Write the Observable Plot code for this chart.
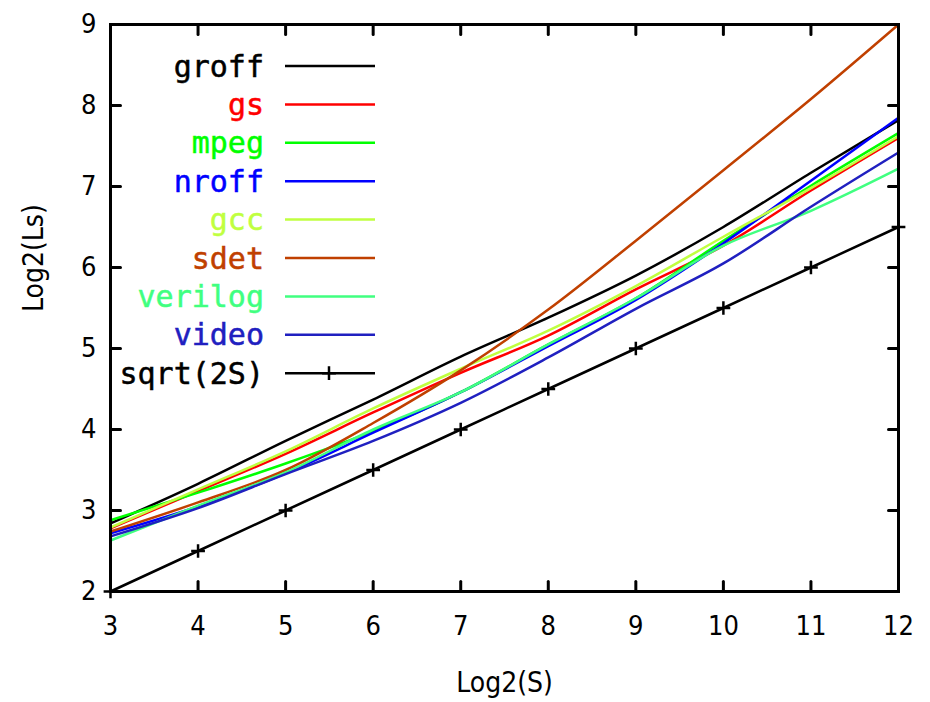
<!DOCTYPE html>
<html><head><meta charset="utf-8">
<script src="https://cdn.jsdelivr.net/npm/d3@7"></script>
<script src="https://cdn.jsdelivr.net/npm/@observablehq/plot@0.6"></script>
<style>body{margin:0;background:#fff} svg{display:block}</style>
</head><body><div id="chart"></div>
<script>
const xValues = [3, 4, 5, 6, 7, 8, 9, 10, 11, 12];
const groff   = [2.84, 3.33, 3.86, 4.37, 4.90, 5.38, 5.90, 6.50, 7.17, 7.82];
const gs      = [2.78, 3.24, 3.70, 4.21, 4.70, 5.16, 5.73, 6.27, 6.95, 7.60];
const mpeg    = [2.88, 3.22, 3.58, 3.98, 4.46, 5.05, 5.62, 6.33, 7.01, 7.66];
const nroff   = [2.72, 3.05, 3.46, 3.96, 4.46, 5.03, 5.60, 6.30, 7.07, 7.85];
const gcc     = [2.79, 3.26, 3.73, 4.26, 4.75, 5.22, 5.77, 6.38, 6.98, 7.62];
const sdet    = [2.74, 3.10, 3.50, 4.08, 4.73, 5.48, 6.33, 7.20, 8.08, 9.00];
const verilog = [2.63, 3.06, 3.47, 4.00, 4.46, 5.05, 5.62, 6.27, 6.70, 7.22];
const video   = [2.68, 3.03, 3.45, 3.86, 4.33, 4.89, 5.49, 6.05, 6.75, 7.42];
const sqrt2S  = [2.0, 2.5, 3.0, 3.5, 4.0, 4.5, 5.0, 5.5, 6.0, 6.5];

const seriesNames  = ["groff", "gs", "mpeg", "nroff", "gcc", "sdet", "verilog", "video", "sqrt(2S)"];
const seriesColors = ["#000000", "#ff0000", "#00ff00", "#0000ff", "#c0ff40", "#c04000", "#40ff80", "#2020c0", "#000000"];
const seriesValues = [groff, gs, mpeg, nroff, gcc, sdet, verilog, video, sqrt2S];

const xTicks = [3, 4, 5, 6, 7, 8, 9, 10, 11, 12];
const yTicks = [2, 3, 4, 5, 6, 7, 8, 9];
const xLabel = "Log2(S)";
const yLabel = "Log2(Ls)";

const rows = seriesNames.flatMap((name, i) =>
  xValues.map((x, j) => ({series: name, x, y: seriesValues[i][j]})));

const tickFont = "'DejaVu Sans Condensed', 'Liberation Sans Narrow', 'Liberation Sans', sans-serif";
const tickShape = {draw(ctx, l) { ctx.moveTo(0, 0); ctx.lineTo(0, -l); }};
const tickStyle = {length: 10, anchor: "start", shape: tickShape, stroke: "#000", strokeWidth: 3};

const marks = [];
seriesNames.forEach((name, i) => {
  marks.push(Plot.line(rows.filter(d => d.series === name),
    {x: "x", y: "y", stroke: seriesColors[i], strokeWidth: 2.5, curve: "monotone-x"}));
});
marks.push(Plot.dot(rows.filter(d => d.series === "sqrt(2S)"),
  {x: "x", y: "y", symbol: "plus", r: 4.5, stroke: "#000", fill: "none", strokeWidth: 2.5}));

marks.push(
  Plot.vector(xTicks, {x: d => d, frameAnchor: "bottom", rotate: 0, ...tickStyle}),
  Plot.vector(xTicks, {x: d => d, frameAnchor: "top", rotate: 180, ...tickStyle}),
  Plot.vector(yTicks, {y: d => d, frameAnchor: "left", rotate: 90, ...tickStyle}),
  Plot.vector(yTicks, {y: d => d, frameAnchor: "right", rotate: -90, ...tickStyle}),
  Plot.frame({stroke: "#000", strokeWidth: 3}),
  Plot.axisX(xTicks, {anchor: "bottom", tickSize: 0, tickPadding: 24, tickFormat: d => String(d), fontSize: 27, fontFamily: tickFont, label: null}),
  Plot.axisY(yTicks, {anchor: "left", tickSize: 0, tickPadding: 14, tickFormat: d => String(d), fontSize: 27, fontFamily: tickFont, label: null}),
  Plot.text([xLabel], {frameAnchor: "bottom", dy: 100, text: d => d, fontSize: 28, fontFamily: tickFont, fill: "#000"}),
  Plot.text([yLabel], {frameAnchor: "left", dx: -76, dy: 4, rotate: -90, text: d => d, fontSize: 28, fontFamily: tickFont, fill: "#000"})
);

const chart = Plot.plot({
  width: 930, height: 702,
  marginLeft: 110, marginRight: 32, marginTop: 24, marginBottom: 111,
  x: {domain: [3, 12]},
  y: {domain: [2, 9]},
  style: {background: "#fff", color: "#000", overflow: "visible"},
  marks
});

// legend inside plot area (top-left)
const svg = d3.select(chart);
const legend = svg.append("g").attr("class", "legend");
const rowY0 = 66, rowStep = 38.4;
seriesNames.forEach((name, i) => {
  const y = rowY0 + i * rowStep;
  legend.append("text")
    .attr("x", 264).attr("y", y).attr("text-anchor", "end").attr("dominant-baseline", "central")
    .attr("font-family", "'DejaVu Sans Mono', monospace").attr("font-size", 30)
    .attr("stroke", seriesColors[i]).attr("stroke-width", 0.5)
    .attr("fill", seriesColors[i]).text(name);
  legend.append("line")
    .attr("x1", 285).attr("x2", 375).attr("y1", y).attr("y2", y)
    .attr("stroke", seriesColors[i]).attr("stroke-width", 2.5);
  if (name === "sqrt(2S)") {
    legend.append("path")
      .attr("transform", `translate(329,${y})`)
      .attr("d", d3.symbol(d3.symbolPlus, 64)())
      .attr("fill", "none").attr("stroke", "#000").attr("stroke-width", 2.5);
  }
});

document.getElementById("chart").appendChild(chart);
</script>
</body></html>
